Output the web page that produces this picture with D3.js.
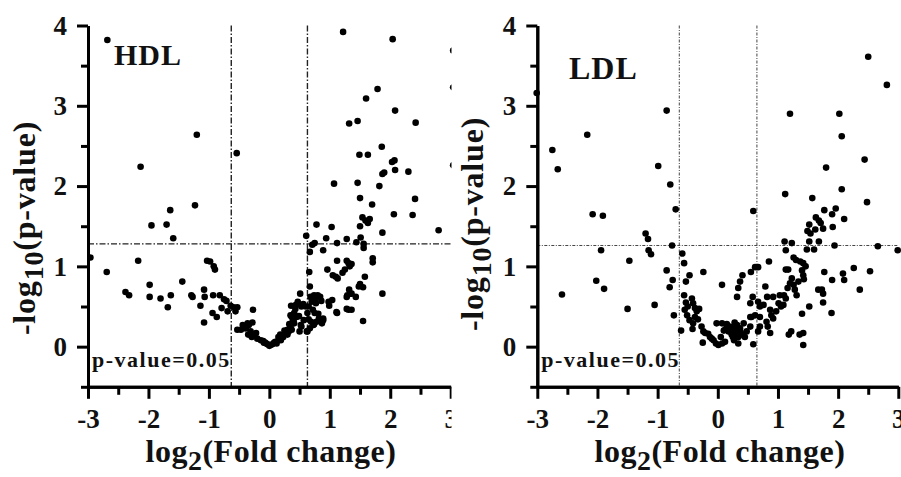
<!DOCTYPE html>
<html>
<head>
<meta charset="utf-8">
<script src="https://cdn.jsdelivr.net/npm/d3@7"></script>
<style>
body { margin: 0; background: #fff; }
svg { display: block; }
text { font-family: "Liberation Serif", "Times New Roman", serif; font-weight: bold; fill: #111; }
</style>
</head>
<body>
<script>
// HDL volcano: log2 fold change and -log10 p-value
var hdlFC = [-2.68,1.22,2.04,3.04,3.04,1.79,1.60,2.08,1.32,1.46,2.42,-1.20,-0.54,3.04,-2.13,1.86,1.49,1.63,2.03,2.07,
  2.08,2.30,1.87,1.90,1.07,1.46,1.82,1.50,2.41,-1.23,1.70,-1.64,2.37,2.06,-1.95,-1.70,-1.59,1.54,1.59,1.66,
  1.63,1.50,0.78,1.03,1.87,2.80,0.61,0.94,1.28,1.51,0.75,0.89,1.12,1.44,1.56,1.56,0.67,0.66,-2.96,-2.69,
  -2.17,-1.03,-0.98,-0.92,-0.90,1.12,1.28,1.31,1.33,1.36,1.71,1.71,1.25,1.21,0.96,1.05,1.10,1.13,1.58,1.50,
  1.48,1.32,1.29,1.36,1.28,1.87,1.55,1.12,1.28,1.36,1.04,0.99,-1.44,-1.98,-1.98,-1.80,-1.63,-1.68,-2.38,-2.32,
  -1.29,-1.27,-1.08,-1.07,-1.14,-1.08,-0.93,-0.82,-0.94,-0.87,-0.79,-0.69,-0.75,-0.71,-0.64,-0.59,-0.53,-0.56,-0.27,-0.53,
  -0.44,-0.34,-0.39,-0.31,-0.25,-0.20,-0.14,-0.09,-0.03,0.00,0.05,0.10,0.16,0.21,0.26,0.30,0.35,0.41,0.37,0.41,
  0.44,0.36,0.51,0.53,0.56,0.60,0.68,0.74,0.80,0.84,0.86,0.77,0.72,0.75,0.82,0.89,0.63,0.65,0.69,0.74,
  0.50,0.53,0.63,0.45,0.49,-0.47,-0.40,-0.36,-0.28,-0.35,-0.29,-0.22,-0.07,0.12,0.19,0.23,0.28,0.32,0.37,0.40,
  0.35,0.42,0.52,0.57,0.62,0.67,0.73,0.78,0.87,0.89,0.81,0.65,0.70,0.76,0.67,0.71,1.11,0.98,1.31,1.34,
  1.55,1.43,0.47,0.43,0.02,0.08,0.15,0.18,0.25,-0.10,-0.05,0.30,0.33,0.38];
var hdlP = [3.82,3.92,3.83,3.69,3.23,3.21,3.09,2.94,2.78,2.81,2.79,2.64,2.41,2.26,2.24,2.49,2.39,2.39,2.30,2.32,
  2.20,2.18,2.15,2.17,2.03,2.04,2.00,1.85,1.84,1.76,1.77,1.70,1.64,1.65,1.51,1.52,1.35,1.61,1.57,1.59,
  1.54,1.50,1.52,1.49,1.42,1.45,1.38,1.35,1.34,1.36,1.29,1.20,1.29,1.30,1.23,1.28,1.18,0.93,1.11,0.93,
  1.07,1.07,1.06,1.00,0.96,1.07,1.07,1.04,1.00,1.03,1.10,1.05,0.96,0.92,0.96,0.89,0.87,0.85,0.87,0.78,
  0.75,0.71,0.64,0.66,0.62,0.66,0.32,0.42,0.47,0.46,0.58,0.51,0.81,0.77,0.62,0.60,0.64,0.49,0.68,0.64,
  0.64,0.62,0.71,0.62,0.51,0.30,0.64,0.64,0.42,0.37,0.48,0.44,0.59,0.57,0.51,0.49,0.49,0.44,0.46,0.21,
  0.27,0.27,0.23,0.19,0.15,0.10,0.08,0.05,0.03,0.01,0.03,0.06,0.09,0.12,0.17,0.21,0.25,0.29,0.37,0.42,
  0.52,0.51,0.66,0.50,0.53,0.50,0.62,0.64,0.64,0.62,0.57,0.54,0.46,0.42,0.35,0.33,0.42,0.34,0.31,0.28,
  0.19,0.25,0.19,0.37,0.38,0.21,0.23,0.29,0.30,0.15,0.12,0.17,0.05,0.04,0.08,0.12,0.17,0.19,0.21,0.33,
  0.39,0.39,0.27,0.33,0.19,0.23,0.27,0.31,0.29,0.35,0.41,0.50,0.56,0.60,0.75,1.27,0.43,0.56,0.46,0.66,
  0.74,0.62,0.56,0.47,0.02,0.05,0.12,0.15,0.20,0.07,0.04,0.15,0.28,0.30];

// LDL volcano
var ldlFC = [-3.01,2.50,2.81,-0.85,1.20,2.02,2.06,-2.17,-2.75,-2.66,-0.99,1.80,2.44,-0.79,1.12,2.06,1.57,2.48,-2.08,-1.91,
  -0.70,0.59,1.77,1.90,1.96,2.10,1.63,1.68,1.71,1.75,1.52,1.62,1.49,1.54,1.91,1.52,1.68,1.48,1.60,1.94,
  2.66,2.99,1.11,1.23,1.13,1.26,1.30,1.37,1.42,1.46,1.40,1.42,1.43,1.77,2.08,2.10,2.26,2.53,2.36,1.90,
  1.67,1.73,1.75,1.75,1.89,1.52,1.40,1.42,1.36,1.18,1.22,1.42,-2.59,-2.02,-1.89,-1.94,-1.50,-1.47,-1.20,-1.16,
  -1.15,-1.11,-1.05,-0.76,-0.85,-0.75,-0.80,-0.73,-0.59,-0.56,-0.53,-0.47,-0.24,-0.61,-0.56,-0.53,-0.50,-0.43,-0.41,-0.38,
  -0.35,-0.31,-0.55,-0.51,-0.47,-0.41,-0.42,-0.38,-0.33,-0.27,-0.24,-0.25,-0.21,-0.16,-0.13,-0.07,-0.03,0.01,0.07,0.12,
  -0.02,0.07,0.15,0.20,0.26,0.32,0.37,0.43,0.18,0.23,0.29,0.34,0.40,0.45,0.27,0.34,0.48,0.54,0.56,0.59,
  0.07,0.32,0.34,0.37,0.41,0.54,0.58,0.55,0.62,0.67,0.54,0.62,0.67,0.70,0.76,0.79,0.82,0.85,0.87,0.89,
  0.92,0.97,1.01,1.05,1.09,1.10,1.13,1.16,1.20,1.23,1.17,1.26,1.28,1.31,1.34,1.13,1.03,0.92,0.70,0.67,
  0.83,0.87,0.70,0.81,0.10,0.22,0.28,0.13,0.30,0.38,-0.10,0.05,0.25];
var ldlP = [3.16,3.61,3.26,2.94,2.90,2.90,2.62,2.64,2.45,2.21,2.25,2.23,2.33,2.02,1.90,1.96,1.85,1.80,1.65,1.63,
  1.71,1.69,1.70,1.65,1.72,1.59,1.61,1.57,1.54,1.47,1.52,1.46,1.44,1.41,1.49,1.31,1.31,1.21,1.21,1.26,
  1.25,1.20,1.31,1.29,1.20,1.11,1.08,1.06,1.04,1.00,0.95,0.89,0.84,0.93,0.91,0.83,0.98,0.94,0.71,0.83,
  0.71,0.71,0.66,0.55,0.42,0.50,0.41,0.17,0.15,0.15,0.19,0.02,0.65,0.82,0.72,1.20,0.47,1.07,1.41,1.34,
  1.20,1.15,0.52,1.26,0.95,0.83,0.74,0.39,1.16,1.04,0.81,0.89,0.93,0.20,0.64,0.55,0.50,0.60,0.54,0.48,
  0.44,0.47,0.46,0.39,0.33,0.29,0.22,0.37,0.34,0.25,0.19,0.05,0.17,0.16,0.12,0.08,0.04,0.02,0.04,0.06,
  0.29,0.29,0.28,0.25,0.23,0.27,0.23,0.29,0.19,0.15,0.17,0.12,0.15,0.12,0.08,0.04,0.19,0.25,0.37,0.03,
  0.77,0.62,0.73,0.81,0.89,0.54,0.62,0.93,0.99,0.99,0.37,0.39,0.56,0.50,0.52,0.75,0.62,1.06,0.46,0.39,
  0.35,0.44,0.54,0.50,0.52,0.64,0.60,0.73,0.79,0.85,0.96,0.77,0.71,0.64,0.81,0.96,0.64,0.62,0.25,0.19,
  0.25,0.17,0.37,0.31,0.20,0.21,0.30,0.22,0.20,0.18,0.10,0.12,0.12];

// axis ticks
var xTicks = [-3, -2, -1, 0, 1, 2, 3];
var xMinorTicks = [-2.5, -1.5, -0.5, 0.5, 1.5, 2.5];
var yTicks = [0, 1, 2, 3, 4];
var yMinorTicks = [-0.5, 0.5, 1.5, 2.5, 3.5];

// threshold lines
var hdlFcCut = [-0.63, 0.63];
var hdlPCut = 1.28;
var ldlFcCut = [-0.64, 0.65];
var ldlPCut = 1.26;

var width = 901, height = 477;

var svg = d3.select("body").append("svg")
    .attr("width", width)
    .attr("height", height);

svg.append("clipPath").attr("id", "clipLeft")
  .append("rect").attr("x", 0).attr("y", 0).attr("width", 451.5).attr("height", height);

// thick black axis line and ticks, serif labels
function styleAxis(a) {
  a.attr("font-family", null).attr("font-size", null);
  a.selectAll("path.domain").attr("stroke", "#000").attr("stroke-width", 3);
  a.selectAll(".tick line").attr("stroke", "#000").attr("stroke-width", 3);
  a.selectAll(".tick text").attr("font-family", null).attr("font-size", 27).attr("fill", "#111");
}

function drawPanel(o) {
  var g = svg.append("g");
  if (o.clip) g.attr("clip-path", "url(#" + o.clip + ")");

  var x = d3.scaleLinear().domain([-3, 3]).range([o.x0, o.x1]);
  var y = d3.scaleLinear().domain([-0.5, 4]).range([386.8, 25.5]);

  // threshold lines
  o.fcCut.forEach(function(c) {
    g.append("line")
      .attr("x1", x(c)).attr("x2", x(c))
      .attr("y1", y(4)).attr("y2", y(-0.5))
      .attr("stroke", o.refColor).attr("stroke-width", o.refWidth)
      .attr("stroke-dasharray", o.refDash);
  });
  g.append("line")
    .attr("x1", x(-3)).attr("x2", x(3))
    .attr("y1", y(o.pCut)).attr("y2", y(o.pCut))
    .attr("stroke", o.refColor).attr("stroke-width", o.refWidth)
    .attr("stroke-dasharray", o.refDash);

  // points
  g.selectAll("circle.pt")
    .data(d3.range(o.fc.length))
    .enter().append("circle")
    .attr("class", "pt")
    .attr("cx", function(i) { return x(o.fc[i]); })
    .attr("cy", function(i) { return y(o.p[i]); })
    .attr("r", 3.3)
    .attr("fill", "#000");

  // axes, major and minor ticks
  var yMaj = g.append("g").attr("transform", "translate(" + x(-3) + ",0)")
    .call(d3.axisLeft(y).tickValues(yTicks).tickSizeInner(11).tickSizeOuter(0).tickPadding(10)
      .tickFormat(function(d) { return String(d); }));
  var yMin = g.append("g").attr("transform", "translate(" + x(-3) + ",0)")
    .call(d3.axisLeft(y).tickValues(yMinorTicks).tickSizeInner(7).tickSizeOuter(0).tickFormat(""));
  var xMaj = g.append("g").attr("transform", "translate(0," + y(-0.5) + ")")
    .call(d3.axisBottom(x).tickValues(xTicks).tickSizeInner(12).tickSizeOuter(0).tickPadding(10)
      .tickFormat(function(d) { return String(d); }));
  var xMin = g.append("g").attr("transform", "translate(0," + y(-0.5) + ")")
    .call(d3.axisBottom(x).tickValues(xMinorTicks).tickSizeInner(8).tickSizeOuter(0).tickFormat(""));
  [yMaj, yMin, xMaj, xMin].forEach(styleAxis);

  // panel title
  g.append("text")
    .attr("x", o.titleX).attr("y", o.titleY)
    .attr("font-size", o.titleSize)
    .attr("letter-spacing", 1)
    .text(o.title);

  // threshold note
  g.append("text")
    .attr("x", x(-3) + 4).attr("y", 367)
    .attr("font-size", 22)
    .attr("letter-spacing", 1.5)
    .text("p-value=0.05");

  // x axis title
  var xt = g.append("text")
    .attr("x", o.xTitleX).attr("y", 462)
    .attr("text-anchor", "middle")
    .attr("font-size", 32)
    .attr("letter-spacing", 0.5);
  xt.append("tspan").text("log");
  xt.append("tspan").attr("font-size", 28).attr("dy", 8).text("2");
  xt.append("tspan").attr("dy", -8).text("(Fold change)");

  // y axis title
  var yt = g.append("text")
    .attr("transform", "translate(" + o.yTitleX + "," + o.yTitleY + ") rotate(-90)")
    .attr("text-anchor", "middle")
    .attr("font-size", 32)
    .attr("letter-spacing", 0.8);
  yt.append("tspan").text("-log");
  yt.append("tspan").attr("font-size", 28).attr("dy", 8).text("10");
  yt.append("tspan").attr("dy", -8).text("(p-value)");
}

drawPanel({
  fc: hdlFC, p: hdlP, fcCut: hdlFcCut, pCut: hdlPCut,
  x0: 88, x1: 450.7, clip: "clipLeft",
  refColor: "#222", refWidth: 1.4, refDash: "6,2,1.5,2",
  title: "HDL", titleX: 114, titleY: 65, titleSize: 30,
  xTitleX: 271, yTitleX: 35, yTitleY: 228
});

drawPanel({
  fc: ldlFC, p: ldlP, fcCut: ldlFcCut, pCut: ldlPCut,
  x0: 537.3, x1: 898.3, clip: null,
  refColor: "#444", refWidth: 1, refDash: "3,1.5,1,1.5",
  title: "LDL", titleX: 569, titleY: 79, titleSize: 32,
  xTitleX: 720, yTitleX: 483, yTitleY: 224
});
</script>
</body>
</html>
